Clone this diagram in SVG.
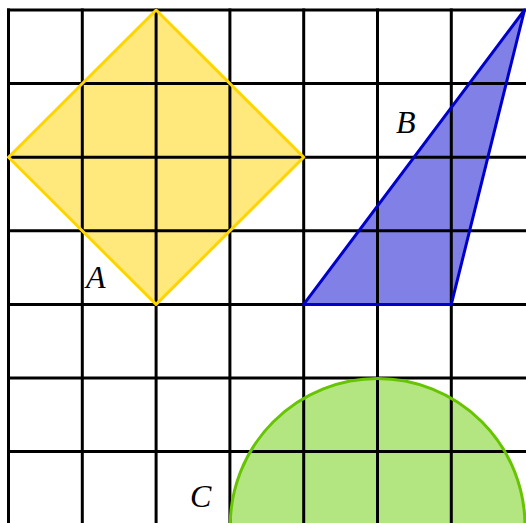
<svg xmlns="http://www.w3.org/2000/svg" width="526" height="523" viewBox="0 0 526 523">
<style>
.grid line{stroke:#000;stroke-width:3;stroke-linecap:square}
.lbl{font-family:"Liberation Serif","DejaVu Serif",serif;font-style:italic;font-size:32px;fill:#000}
</style>
<rect width="526" height="523" fill="#fff"/>
<g id="A-fill"><polygon points="156.1,10 303.7,157.2 156.1,304.4 8.5,157.2" fill="#FFE87C"/></g>
<g id="B-fill"><polygon points="303.7,304.4 451.3,304.4 524.5,10" fill="#8080E6"/></g>
<g id="C-fill"><circle cx="377.6" cy="526" r="147.4" fill="#B3E680"/></g>
<g class="grid" id="grid">
<line x1="8.5" y1="10" x2="8.5" y2="523"/>
<line x1="82.3" y1="10" x2="82.3" y2="523"/>
<line x1="156.1" y1="10" x2="156.1" y2="523"/>
<line x1="229.9" y1="10" x2="229.9" y2="523"/>
<line x1="303.7" y1="10" x2="303.7" y2="523"/>
<line x1="377.5" y1="10" x2="377.5" y2="523"/>
<line x1="451.3" y1="10" x2="451.3" y2="523"/>
<line x1="8.5" y1="10" x2="526" y2="10"/>
<line x1="8.5" y1="83.6" x2="526" y2="83.6"/>
<line x1="8.5" y1="157.2" x2="526" y2="157.2"/>
<line x1="8.5" y1="230.8" x2="526" y2="230.8"/>
<line x1="8.5" y1="304.4" x2="526" y2="304.4"/>
<line x1="8.5" y1="378" x2="526" y2="378"/>
<line x1="8.5" y1="451.6" x2="526" y2="451.6"/>
</g>
<g id="A"><polygon points="156.1,10 303.7,157.2 156.1,304.4 8.5,157.2" fill="none" stroke="#FFD500" stroke-width="3" stroke-linejoin="round"/><text class="lbl" x="86" y="288">A</text></g>
<g id="B"><polygon points="303.7,304.4 451.3,304.4 524.5,10" fill="none" stroke="#0000CC" stroke-width="3" stroke-linejoin="round"/><text class="lbl" x="396" y="133">B</text></g>
<g id="C"><circle cx="377.6" cy="526" r="147.4" fill="none" stroke="#66C400" stroke-width="3"/><text class="lbl" x="190" y="507">C</text></g>
</svg>
